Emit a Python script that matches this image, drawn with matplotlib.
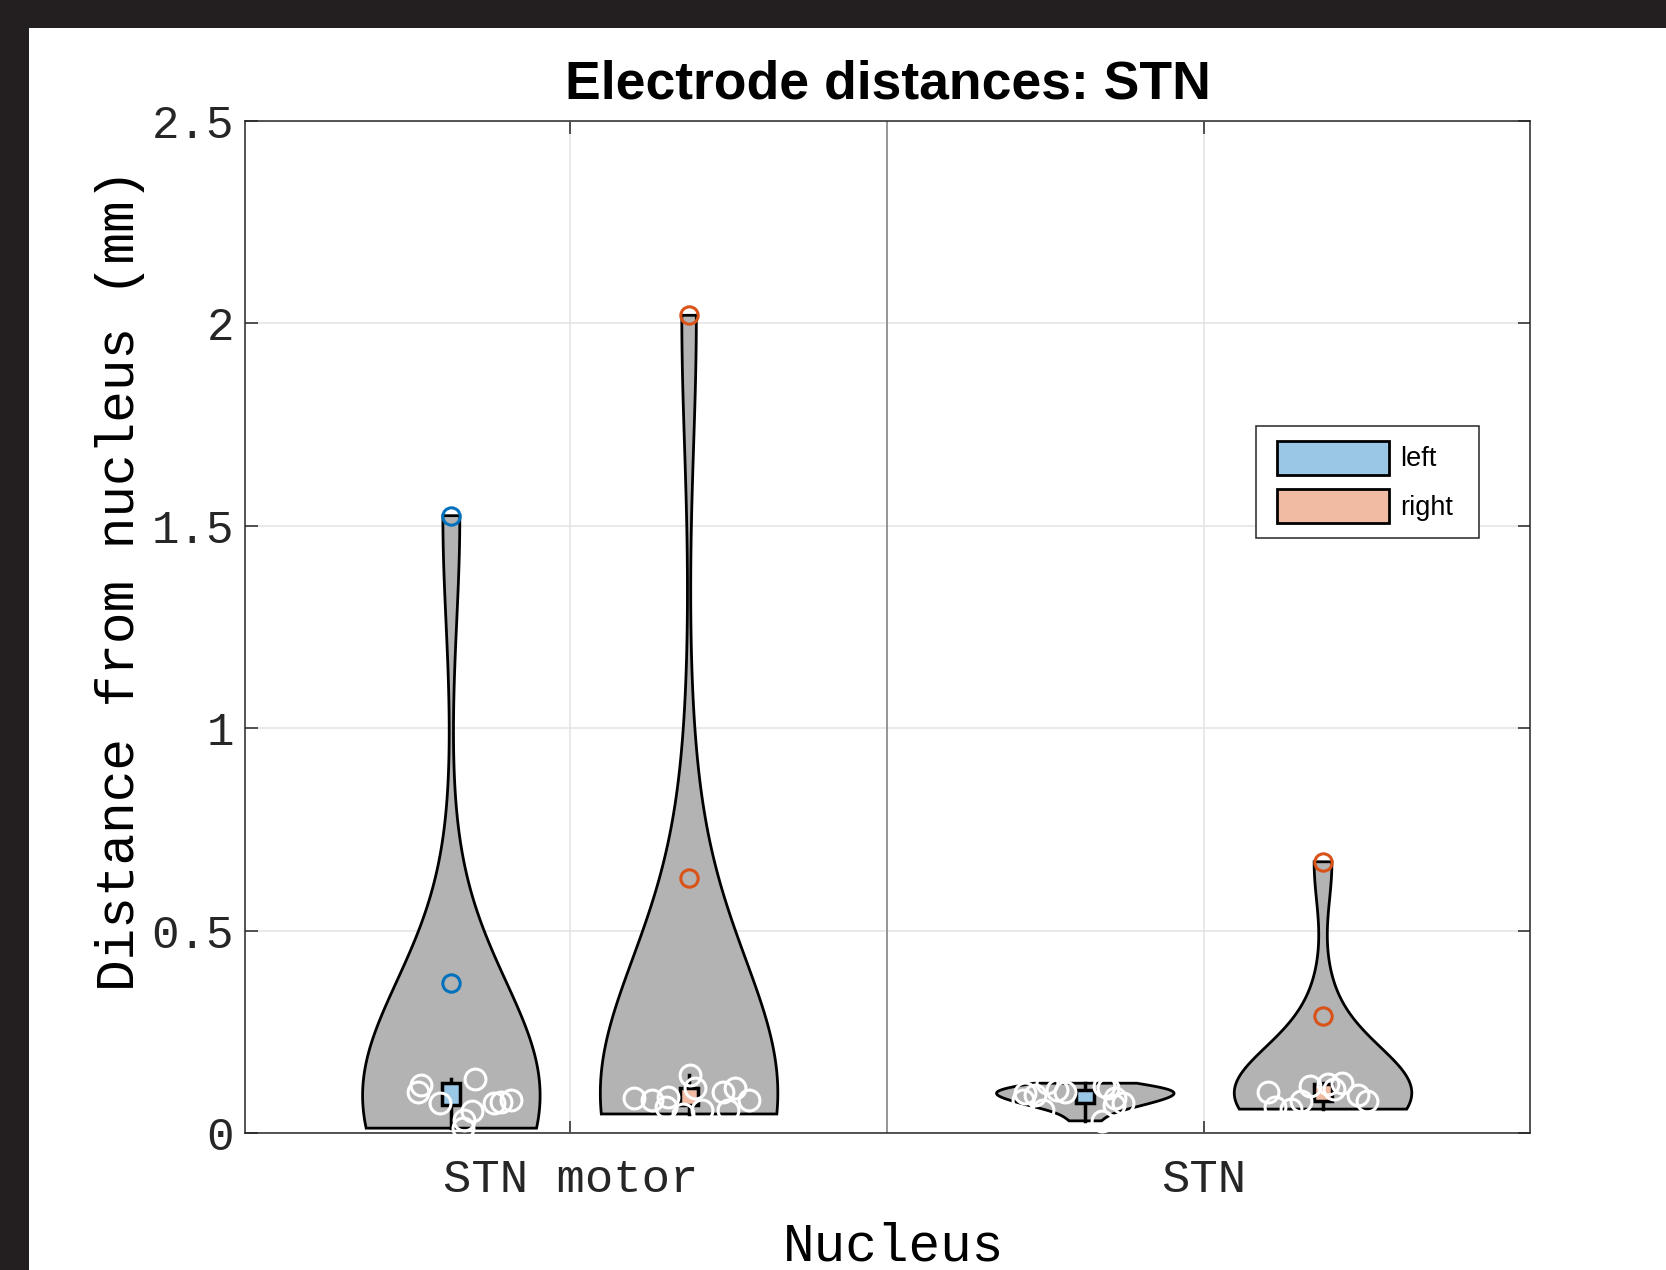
import numpy as np
import matplotlib
matplotlib.use("Agg")
import matplotlib.pyplot as plt
from matplotlib.patches import Rectangle, Patch
from matplotlib.legend_handler import HandlerPatch

# --- data (distance from nucleus, mm) ---
categories = ["STN motor", "STN"]
sides = ["left", "right"]

motor_left = [0.119, 0.102, 0.073, 0.133, 0.054, 0.032, 0.012, 0.073, 0.077, 0.082, 0.37, 1.525]
motor_left_dx = [-0.048, -0.053, -0.018, 0.037, 0.032, 0.020, 0.018, 0.067, 0.078, 0.094, 0, 0]

motor_right = [0.086, 0.082, 0.090, 0.065, 0.143, 0.111, 0.057, 0.102, 0.111, 0.082, 0.057, 0.047, 0.63, 2.02]
motor_right_dx = [-0.087, -0.058, -0.034, -0.037, 0.002, 0.010, 0.021, 0.053, 0.073, 0.094, 0.061, -0.010, 0, 0]

stn_left = [0.030, 0.057, 0.068, 0.074, 0.082, 0.086, 0.095, 0.098, 0.102, 0.106, 0.110, 0.115, 0.123]
stn_left_dx = [0.027, -0.066, 0.045, 0.060, -0.098, 0.047, -0.080, -0.095, -0.032, -0.044, 0.036, 0.030, -0.060]

stn_right = [0.059, 0.063, 0.079, 0.079, 0.094, 0.102, 0.108, 0.115, 0.121, 0.123, 0.29, 0.67]
stn_right_dx = [-0.050, -0.075, -0.035, 0.070, 0.055, -0.087, 0.017, -0.020, 0.008, 0.030, 0, 0]

groups = [[(motor_left, motor_left_dx), (motor_right, motor_right_dx)],
          [(stn_left, stn_left_dx), (stn_right, stn_right_dx)]]

# --- style ---
side_offset = [-0.1875, 0.1875]
half_width = 0.14
box_half = 0.014
line_col = ["#0072BD", "#D95319"]
fill_col = ["#99C7E5", "#F0BAA3"]
violin_gray = "#b3b3b3"
mono = "Liberation Mono"
sans = "Liberation Sans"


def kde(vals, grid):
    vals = np.asarray(vals)
    h = 1.06 * vals.std(ddof=1) * len(vals) ** (-0.2)
    d = np.exp(-0.5 * ((grid[:, None] - vals[None, :]) / h) ** 2).sum(axis=1)
    return d


fig = plt.figure(figsize=(16.66, 12.70), dpi=100)
fig.patch.set_facecolor("white")
ax = fig.add_axes([245 / 1666, 137 / 1270, 1285 / 1666, 1012 / 1270])

for gi, pair in enumerate(groups):
    for si, (vals, dx) in enumerate(pair):
        vals = np.asarray(vals)
        dx = np.asarray(dx)
        xc = gi + 1 + side_offset[si]

        # violin
        grid = np.linspace(vals.min(), vals.max(), 300)
        dens = kde(vals, grid)
        w = dens / dens.max() * half_width
        ax.fill(np.r_[xc - w, (xc + w)[::-1]], np.r_[grid, grid[::-1]],
                facecolor=violin_gray, edgecolor="black", lw=2, zorder=2)

        # box + whiskers
        q1, q3 = np.percentile(vals, [25, 75])
        iqr = q3 - q1
        inside = (vals >= q1 - 1.5 * iqr) & (vals <= q3 + 1.5 * iqr)
        wlo, whi = vals[inside].min(), vals[inside].max()
        ax.plot([xc, xc], [wlo, whi], color="black", lw=2.5, zorder=3)
        ax.add_patch(Rectangle((xc - box_half, q1), 2 * box_half, q3 - q1,
                               facecolor=fill_col[si], edgecolor="black", lw=2.5, zorder=4))

        # points
        ax.plot(xc + dx[inside], vals[inside], "o", mfc="none", mec="white",
                ms=15, mew=2.2, zorder=5)
        ax.plot(np.full((~inside).sum(), xc), vals[~inside], "o", mfc="none",
                mec=line_col[si], ms=12.5, mew=2.2, zorder=5)

ax.axvline(1.5, color="#8c8c8c", lw=1.3, zorder=1)

ax.set_xlim(0.487, 2.514)
ax.set_ylim(0, 2.5)
ax.set_xticks([1, 2])
ax.set_xticklabels(categories, fontfamily=mono, fontsize=34)
ax.set_yticks([0, 0.5, 1, 1.5, 2, 2.5])
ax.set_yticklabels(["0", "0.5", "1", "1.5", "2", "2.5"], fontfamily=mono, fontsize=33)
ax.tick_params(axis="both", direction="in", length=9, width=1.1, colors="#262626",
               top=True, right=True)
ax.tick_params(axis="x", pad=18)
ax.tick_params(axis="y", pad=8)
ax.grid(True, color="#e3e3e3", lw=1.1, zorder=0)
ax.set_axisbelow(True)
for sp in ax.spines.values():
    sp.set_color("#262626")
    sp.set_linewidth(1.1)

ax.set_xlabel("Nucleus", fontfamily=mono, fontsize=38, va="top")
ax.xaxis.set_label_coords(0.505, -0.087)
ax.set_ylabel("Distance from nucleus (mm)", fontfamily=mono, fontsize=38, va="center")
ax.yaxis.set_label_coords(-0.097, 0.547)
ax.set_title("Electrode distances: STN", fontfamily=sans, fontweight="bold",
             fontsize=38.5, pad=16)

handles = [Patch(facecolor=fill_col[i], edgecolor="black", lw=2, label=sides[i])
           for i in range(2)]
leg = ax.legend(handles=handles, loc="upper left",
                bbox_to_anchor=(0.787, 0.586, 0.173, 0.113), mode="expand",
                borderaxespad=0, prop={"family": sans, "size": 19.5},
                handlelength=4.34, handleheight=1.555, labelspacing=0.55,
                handletextpad=0.43, borderpad=0.55,
                handler_map={Patch: HandlerPatch(xpad=0.22)},
                fancybox=False, framealpha=1, edgecolor="#262626")
leg.get_frame().set_linewidth(1.1)

# dark screenshot frame
fig.add_artist(Rectangle((0, 1 - 28 / 1270), 1, 28 / 1270, transform=fig.transFigure,
                         facecolor="#231f20", edgecolor="none"))
fig.add_artist(Rectangle((0, 0), 29 / 1666, 1, transform=fig.transFigure,
                         facecolor="#231f20", edgecolor="none"))

fig.savefig("out.png", dpi=100)
